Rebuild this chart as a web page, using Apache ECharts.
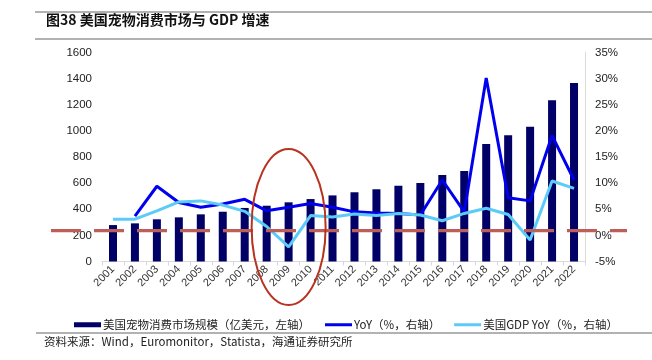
<!DOCTYPE html>
<html>
<head>
<meta charset="utf-8">
<script src="https://cdn.jsdelivr.net/npm/echarts@6/dist/echarts.min.js"></script>
<style>
html,body{margin:0;padding:0;background:#fff;}
#c{width:652px;height:360px;}
</style>
</head>
<body>
<div id="c"></div>
<script>
var years = ['2001','2002','2003','2004','2005','2006','2007','2008','2009','2010','2011','2012','2013','2014','2015','2016','2017','2018','2019','2020','2021','2022'];
var marketSize = [279,292,323,338,361,381,410,427,453,478,506,530,553,580,601,662,693,900,966,1032,1234,1366];
var marketYoY = [null,3.7,9.4,6.3,5.4,6.0,6.9,4.7,5.4,6.1,5.4,4.5,4.3,4.2,3.9,10.6,4.5,30.1,7.2,6.6,19.1,10.6];
var gdpYoY = [3.1,3.1,4.7,6.4,6.6,5.8,4.6,1.7,-2.2,3.8,3.5,4.1,3.8,4.2,3.9,2.8,4.2,5.2,4.0,-0.9,10.4,9.0];
var leftTicks = {min:0,max:1600,interval:200};
var rightTicks = {min:-5,max:35,interval:5};

var FONT = 'Liberation Sans, Arial, "Noto Sans CJK SC", sans-serif';
var CJK = '"Noto Sans CJK SC", "Liberation Sans", sans-serif';
var chart = echarts.init(document.getElementById('c'), null, {renderer:'canvas'});

var names = ['美国宠物消费市场规模（亿美元，左轴）','YoY（%，右轴）','美国GDP YoY（%，右轴）'];
var legendText = {fontFamily:CJK, fontSize:11.5, color:'#222', padding:[0,0,0,-3]};

chart.setOption({
  animation:false,
  backgroundColor:'#fff',
  grid:{left:102, top:52.5, width:483, height:209, containLabel:false},
  legend:[
    {data:[{name:names[0],icon:'rect'}], left:69, top:314, itemWidth:27, itemHeight:5, textStyle:legendText},
    {data:[{name:names[1],icon:'rect'},{name:names[2],icon:'rect'}], left:320, top:314, itemWidth:27, itemHeight:3, itemGap:14, textStyle:legendText}
  ],
  xAxis:{
    type:'category', data:years,
    axisLine:{show:true, lineStyle:{color:'#d9d9d9', width:1}},
    axisTick:{show:true, length:4, lineStyle:{color:'#d9d9d9'}},
    axisLabel:{rotate:45, fontFamily:FONT, fontSize:11, color:'#333', margin:6, interval:0},
    splitLine:{show:false}
  },
  yAxis:[
    {type:'value', min:leftTicks.min, max:leftTicks.max, interval:leftTicks.interval,
     axisLine:{show:false}, axisTick:{show:false}, splitLine:{show:false},
     axisLabel:{fontFamily:FONT, fontSize:11.5, color:'#222', margin:10, formatter:function(v){return String(v);}}},
    {type:'value', min:rightTicks.min, max:rightTicks.max, interval:rightTicks.interval,
     axisLine:{show:true, lineStyle:{color:'#d9d9d9'}}, axisTick:{show:false}, splitLine:{show:false},
     axisLabel:{fontFamily:FONT, fontSize:11.5, color:'#222', margin:10, formatter:'{value}%'}}
  ],
  series:[
    {name:names[0], type:'bar', data:marketSize, barWidth:8, yAxisIndex:0,
     itemStyle:{color:'#000066'}},
    {name:names[1], type:'line', data:marketYoY, yAxisIndex:1, symbol:'none',
     lineStyle:{color:'#0000ee', width:3}, itemStyle:{color:'#0000ee'}},
    {name:names[2], type:'line', data:gdpYoY, yAxisIndex:1, symbol:'none',
     lineStyle:{color:'#5ccbf7', width:3}, itemStyle:{color:'#5ccbf7'}}
  ]
});

var dashY = chart.convertToPixel({yAxisIndex:1}, 0.9);
var cx = chart.convertToPixel({xAxisIndex:0}, '2009');

chart.setOption({
  graphic:[
    {type:'line', z:100, shape:{x1:35,y1:12,x2:652,y2:12}, style:{stroke:'#666',lineWidth:1.2}},
    {type:'line', z:100, shape:{x1:35,y1:39,x2:652,y2:39}, style:{stroke:'#666',lineWidth:1.2}},
    {type:'text', z:100, left:46, top:13, style:{text:'图38 美国宠物消费市场与 GDP 增速', font:'bold 14px '+CJK, fill:'#111'}},
    {type:'line', z:100, shape:{x1:51,y1:dashY,x2:627,y2:dashY}, style:{stroke:'#bd5f58',lineWidth:3.2,lineDash:[30,13]}},
    {type:'ellipse', z:100, shape:{cx:cx, cy:227, rx:37, ry:78}, style:{stroke:'#b8321f', fill:'none', lineWidth:2}},
    {type:'line', z:100, shape:{x1:36,y1:333,x2:652,y2:333}, style:{stroke:'#666',lineWidth:1.2}},
    {type:'text', z:100, left:44, top:336, style:{text:'资料来源：Wind，Euromonitor，Statista，海通证券研究所', font:'11.5px '+CJK, fill:'#222'}}
  ]
});
</script>
</body>
</html>
